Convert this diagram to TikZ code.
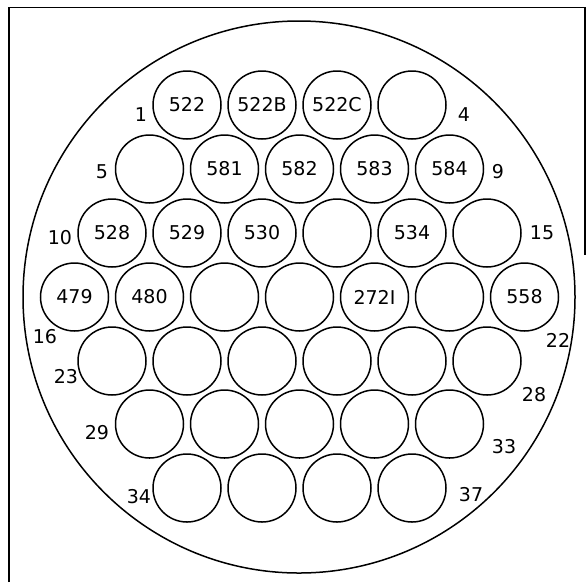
\documentclass[tikz,border=0pt]{standalone}
\usepackage{fontspec}
\setmainfont{DejaVu Sans}
\begin{document}
\begin{tikzpicture}[x=1pt,y=-1pt,
  hole/.style={draw, circle, minimum size=68pt, inner sep=0pt, line width=1.5pt, font=\fontsize{19}{21}\selectfont},
  num/.style={font=\fontsize{19}{21}\selectfont, inner sep=0pt}]
\useasboundingbox (0,0) rectangle (588,582);
\draw[line width=1.3pt] (9,582) -- (9,7.5) -- (585,7.5) -- (585,255);
\node[draw, circle, line width=1.5pt, minimum size=552pt, inner sep=0pt] (shell) at (299,297) {};
\foreach \t [count=\j from 0] in {522,522B,522C,{}}
  \node[hole] (a\j) at ({299.5+(\j-1.5)*75},105) {\t};
\foreach \t [count=\j from 0] in {{},581,582,583,584}
  \node[hole] (b\j) at ({299.5+(\j-2)*75},169) {\t};
\foreach \t [count=\j from 0] in {528,529,530,{},534,{}}
  \node[hole] (c\j) at ({299.5+(\j-2.5)*75},233) {\t};
\foreach \t [count=\j from 0] in {479,480,{},{},272I,{},558}
  \node[hole] (d\j) at ({299.5+(\j-3)*75},297) {\t};
\foreach \j in {0,...,5}
  \node[hole] (e\j) at ({299.5+(\j-2.5)*75},361) {};
\foreach \j in {0,...,4}
  \node[hole] (f\j) at ({299.5+(\j-2)*75},424) {};
\foreach \j in {0,...,3}
  \node[hole] (g\j) at ({299.5+(\j-1.5)*75},488) {};
\node[num] (n1) at (141,115) {1};
\node[num] (n4) at (464,115) {4};
\node[num] (n5) at (102,172) {5};
\node[num] (n9) at (498,172) {9};
\node[num] (n10) at (60,238) {10};
\node[num] (n15) at (542,233) {15};
\node[num] (n16) at (45,337) {16};
\node[num] (n22) at (558,340) {22};
\node[num] (n23) at (66,377) {23};
\node[num] (n28) at (534,395) {28};
\node[num] (n29) at (97,433) {29};
\node[num] (n33) at (504,447) {33};
\node[num] (n34) at (139,497) {34};
\node[num] (n37) at (471,495) {37};
\end{tikzpicture}
\end{document}
